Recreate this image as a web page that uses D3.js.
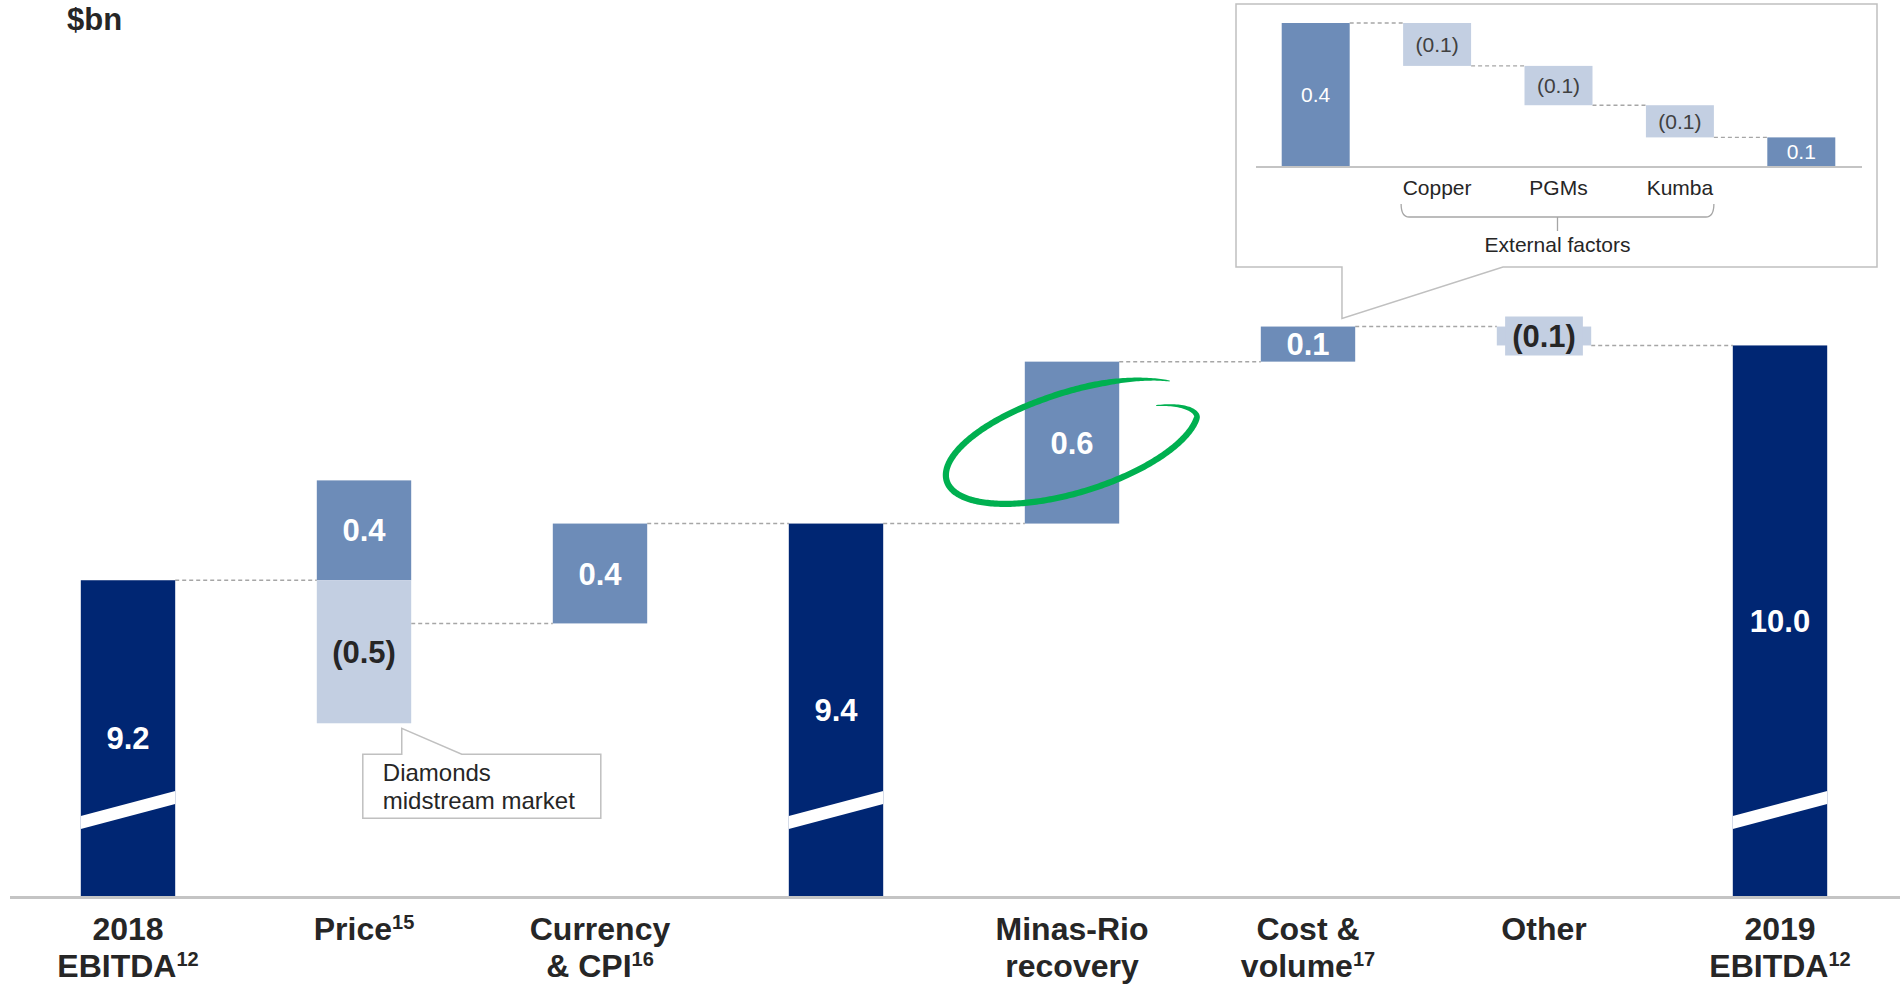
<!DOCTYPE html>
<html><head><meta charset="utf-8">
<script src="https://cdn.jsdelivr.net/npm/d3@7"></script>
<style>
html,body{margin:0;padding:0;background:#fff;}
svg{display:block;font-family:"Liberation Sans",Arial,Helvetica,sans-serif;}
</style></head><body>
<svg id="chart" width="1900" height="984"></svg>
<script>
// ---------------- data ----------------
const unitLabel = "$bn";
const categories = ["2018 EBITDA","Price","Currency & CPI","Subtotal","Minas-Rio recovery","Cost & volume","Other","2019 EBITDA"];
const categoryLines = [["2018","EBITDA"],["Price"],["Currency","& CPI"],[],["Minas-Rio","recovery"],["Cost &","volume"],["Other"],["2019","EBITDA"]];
const categorySup = ["12","15","16","","","17","","12"];
const totals = [9.2, null, null, 9.41, null, null, null, 10.07];
const increases = [0, 0.37, 0.37, 0, 0.60, 0.13, 0, 0];
const decreases = [0, -0.53, 0, 0, 0, 0, -0.07, 0];
const totalLabels = ["9.2","","","9.4","","","","10.0"];
const increaseLabels = ["","0.4","0.4","","0.6","0.1","",""];
const decreaseLabels = ["","(0.5)","","","","","(0.1)",""];
const axisDomain = [8.03, 11.35];

const insetCategories = ["Start","Copper","PGMs","Kumba","End"];
const insetTotals = [0.40, null, null, null, 0.08];
const insetChanges = [0, -0.12, -0.11, -0.09, 0];
const insetLabels = ["0.4","(0.1)","(0.1)","(0.1)","0.1"];
const insetTickLabels = ["","Copper","PGMs","Kumba",""];
const insetGroupLabel = "External factors";
const calloutLines = ["Diamonds","midstream market"];

// ---------------- styles ----------------
const C = {navy:"#002673", mid:"#6d8cb8", light:"#c3cfe2", text:"#262626", dash:"#a6a6a6",
           axis:"#c4c4c4", box:"#c0c0c0", green:"#00b050", insetText:"#404040"};

const svg = d3.select("#chart");

// ---------------- main scales ----------------
const x = d3.scaleBand().domain(categories).range([10, 1898]).paddingInner(0.6).paddingOuter(0.3);
const y = d3.scaleLinear().domain(axisDomain).range([896, 0]);
const bw = x.bandwidth();

// ---------------- running levels ----------------
let lvl = 0;
const segs = [], connectors = [];
categories.forEach((c, i) => {
  if (totals[i] != null) {
    segs.push({c, v0: axisDomain[0], v1: totals[i], color: C.navy, label: totalLabels[i], lc: "#fff", brk: true});
    lvl = totals[i];
  } else {
    const start = lvl;
    if (increases[i] > 0) segs.push({c, v0: start, v1: start + increases[i], color: C.mid, label: increaseLabels[i], lc: "#fff"});
    if (decreases[i] < 0) segs.push({c, v0: start + decreases[i], v1: start, color: C.light, label: decreaseLabels[i], lc: C.text, box: increases[i] === 0});
    lvl = start + increases[i] + decreases[i];
  }
  if (i < categories.length - 1) connectors.push({x1: x(c) + bw, x2: x(categories[i + 1]), v: lvl});
});
const levelAfter = (i) => { let l = 0; for (let k = 0; k <= i; k++) l = totals[k] != null ? totals[k] : l + increases[k] + decreases[k]; return l; };

// ---------------- inset callout box (behind) ----------------
const costX = x("Cost & volume");
const costTopY = y(levelAfter(5));
const tipX = costX + bw * 0.86, tipY = costTopY - 8;
const boxL = 1236, boxR = 1877, boxT = 4, boxB = 267;
svg.append("path")
  .attr("d", `M${boxL},${boxT}H${boxR}V${boxB}H${tipX + 161}L${tipX},${tipY}L${tipX},${boxB}H${boxL}Z`)
  .attr("fill", "#fff").attr("stroke", C.box).attr("stroke-width", 1.5);

// ---------------- connectors ----------------
svg.append("g").selectAll("line").data(connectors).join("line")
  .attr("x1", d => d.x1).attr("x2", d => d.x2)
  .attr("y1", d => y(d.v)).attr("y2", d => y(d.v))
  .attr("stroke", C.dash).attr("stroke-width", 1.5).attr("stroke-dasharray", "4 3");

// ---------------- bars ----------------
svg.append("g").selectAll("rect").data(segs).join("rect")
  .attr("x", d => x(d.c)).attr("width", bw)
  .attr("y", d => y(d.v1)).attr("height", d => y(d.v0) - y(d.v1))
  .attr("fill", d => d.color);

// break marks on truncated total bars
segs.filter(d => d.brk).forEach(d => {
  const x0 = x(d.c), x1 = x0 + bw, base = y(axisDomain[0]);
  svg.append("path")
    .attr("d", `M${x0},${base - 80}L${x1},${base - 105}L${x1},${base - 92}L${x0},${base - 67}Z`)
    .attr("fill", "#fff");
});

// label boxes for thin bars
segs.forEach(d => {
  if (!d.label || !d.box) return;
  const cx = x(d.c) + bw / 2, cy = (y(d.v0) + y(d.v1)) / 2;
  const t = svg.append("text").attr("x", cx).attr("y", cy).attr("dy", "0.36em")
    .attr("text-anchor", "middle").attr("font-weight", "bold").attr("font-size", 31)
    .attr("opacity", 0).text(d.label);
  const bb = t.node().getBBox(); t.remove();
  svg.append("rect").attr("x", cx - bb.width / 2 - 7).attr("width", bb.width + 14)
    .attr("y", cy - 19.5).attr("height", 39).attr("fill", d.color);
});
segs.forEach(d => {
  if (!d.label) return;
  const cx = x(d.c) + bw / 2, cy = (y(d.v0) + y(d.v1)) / 2;
  svg.append("text").attr("x", cx).attr("y", cy).attr("dy", "0.36em")
    .attr("text-anchor", "middle").attr("font-weight", "bold").attr("font-size", 31)
    .attr("fill", d.lc).text(d.label);
});

// ---------------- axis line ----------------
svg.append("line").attr("x1", 10).attr("x2", 1900).attr("y1", 897.5).attr("y2", 897.5)
  .attr("stroke", C.axis).attr("stroke-width", 3);

// ---------------- category labels ----------------
categories.forEach((c, i) => {
  const lines = categoryLines[i];
  lines.forEach((ln, j) => {
    const t = svg.append("text").attr("x", x(c) + bw / 2).attr("y", 940 + j * 37)
      .attr("text-anchor", "middle").attr("font-weight", "bold").attr("font-size", 32)
      .attr("fill", C.text);
    t.append("tspan").text(ln);
    if (j === lines.length - 1 && categorySup[i]) {
      t.append("tspan").attr("dy", -11).attr("font-size", 20).text(categorySup[i]);
    }
  });
});

// ---------------- unit label ----------------
svg.append("text").attr("x", 67).attr("y", 30).attr("font-weight", "bold").attr("font-size", 31)
  .attr("fill", C.text).text(unitLabel);

// ---------------- diamonds callout ----------------
const px = x("Price"), pBottom = y(levelAfter(0) + decreases[1]);
const dTipX = px + bw * 0.9, dTipY = pBottom + 5;
const dL = px + 46, dR = px + 284, dT = pBottom + 31, dB = pBottom + 95;
svg.append("path")
  .attr("d", `M${dL},${dT}H${dTipX}V${dTipY}L${dTipX + 60},${dT}H${dR}V${dB}H${dL}Z`)
  .attr("fill", "#fff").attr("stroke", C.box).attr("stroke-width", 1.5);
calloutLines.forEach((ln, j) => {
  svg.append("text").attr("x", dL + 20).attr("y", dT + 27 + j * 28)
    .attr("font-size", 24).attr("fill", C.text).text(ln);
});

// ---------------- green hand-drawn ellipse ----------------
(function () {
  const mi = 4;
  const cx = x(categories[mi]) + bw / 2;
  const cy = (y(levelAfter(mi)) + y(levelAfter(mi - 1))) / 2;
  const a = -17 * Math.PI / 180, rx = 131, ry = 50, t0 = -0.3, t1 = 2 * Math.PI - 0.62;
  const N = 320, pts = [];
  for (let k = 0; k <= N; k++) {
    const t = t0 + (t1 - t0) * k / N;
    let s = 1;
    if (t < 0.25) s = 1 - 0.27 * Math.pow((0.25 - t) / (0.25 - t0), 1.4);
    else if (t > 4.6) s = 1 + 0.045 * (t - 4.6) / (t1 - 4.6);
    const u = rx * s * Math.cos(t), v = ry * s * Math.sin(t);
    pts.push([cx + u * Math.cos(a) - v * Math.sin(a), cy + u * Math.sin(a) + v * Math.cos(a)]);
  }
  const outer = [], inner = [];
  for (let k = 0; k <= N; k++) {
    const p = pts[k], q = pts[Math.min(N, k + 1)], r = pts[Math.max(0, k - 1)];
    let dx = q[0] - r[0], dy = q[1] - r[1];
    const L = Math.hypot(dx, dy) || 1; dx /= L; dy /= L;
    const f = k / N;
    const w = 0.5 + 2.6 * Math.min(1, f / 0.1, (1 - f) / 0.1);
    outer.push([p[0] - dy * w, p[1] + dx * w]);
    inner.push([p[0] + dy * w, p[1] - dx * w]);
  }
  const d = "M" + outer.map(p => p[0].toFixed(2) + "," + p[1].toFixed(2)).join("L") +
            "L" + inner.reverse().map(p => p[0].toFixed(2) + "," + p[1].toFixed(2)).join("L") + "Z";
  svg.append("path").attr("d", d).attr("fill", C.green);
})();

// ---------------- inset waterfall ----------------
const xi = d3.scaleBand().domain(insetCategories).range([1255, 1862]).paddingInner(0.44).paddingOuter(0.22);
const yi = d3.scaleLinear().domain([0, 0.4]).range([166, 23]);
const bwi = xi.bandwidth();
let il = 0; const iSegs = [], iConn = [];
insetCategories.forEach((c, i) => {
  if (insetTotals[i] != null) { iSegs.push({c, v0: 0, v1: insetTotals[i], color: C.mid, lc: "#fff", label: insetLabels[i]}); il = insetTotals[i]; }
  else { iSegs.push({c, v0: il + insetChanges[i], v1: il, color: C.light, lc: C.insetText, label: insetLabels[i]}); il += insetChanges[i]; }
  if (i < insetCategories.length - 1) iConn.push({x1: xi(c) + bwi, x2: xi(insetCategories[i + 1]), v: il});
});
svg.append("g").selectAll("line").data(iConn).join("line")
  .attr("x1", d => d.x1).attr("x2", d => d.x2).attr("y1", d => yi(d.v)).attr("y2", d => yi(d.v))
  .attr("stroke", C.dash).attr("stroke-width", 1.3).attr("stroke-dasharray", "4 3");
svg.append("g").selectAll("rect").data(iSegs).join("rect")
  .attr("x", d => xi(d.c)).attr("width", bwi)
  .attr("y", d => yi(d.v1)).attr("height", d => yi(d.v0) - yi(d.v1)).attr("fill", d => d.color);
svg.append("g").selectAll("text").data(iSegs).join("text")
  .attr("x", d => xi(d.c) + bwi / 2).attr("y", d => (yi(d.v0) + yi(d.v1)) / 2).attr("dy", "0.36em")
  .attr("text-anchor", "middle").attr("font-size", 21).attr("fill", d => d.lc).text(d => d.label);
svg.append("line").attr("x1", 1256).attr("x2", 1862).attr("y1", 167).attr("y2", 167)
  .attr("stroke", C.axis).attr("stroke-width", 2);
insetCategories.forEach((c, i) => {
  if (!insetTickLabels[i]) return;
  svg.append("text").attr("x", xi(c) + bwi / 2).attr("y", 195).attr("text-anchor", "middle")
    .attr("font-size", 21).attr("fill", C.text).text(insetTickLabels[i]);
});
const bL = xi("Copper") - 2, bR = xi("Kumba") + bwi, bC = (bL + bR) / 2;
svg.append("path")
  .attr("d", `M${bL},204Q${bL},217 ${bL + 8},217H${bR - 8}Q${bR},217 ${bR},204M${bC},217V231`)
  .attr("fill", "none").attr("stroke", C.dash).attr("stroke-width", 1.3);
svg.append("text").attr("x", bC).attr("y", 252).attr("text-anchor", "middle")
  .attr("font-size", 21).attr("fill", C.text).text(insetGroupLabel);
</script>
</body></html>
